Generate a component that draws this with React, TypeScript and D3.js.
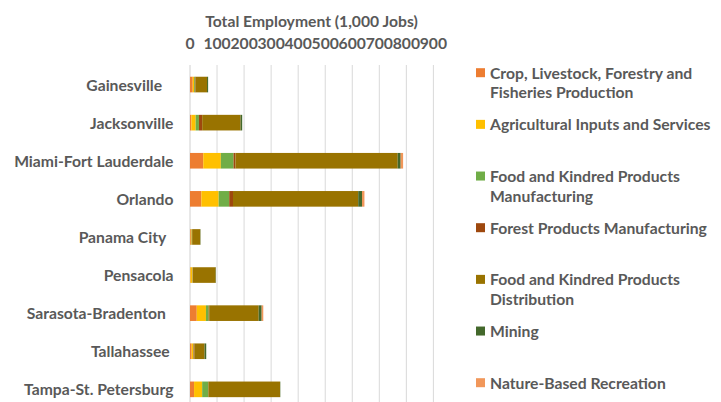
import React from "react";
import * as d3 from "d3";

const cities = [
  "Gainesville   ",
  "Jacksonville",
  "Miami-Fort Lauderdale",
  "Orlando",
  "Panama City  ",
  "Pensacola",
  "Sarasota-Bradenton  ",
  "Tallahassee ",
  "Tampa-St. Petersburg",
];

const seriesNames = [
  "Crop, Livestock, Forestry and Fisheries Production",
  "Agricultural Inputs and Services",
  "Food and Kindred Products Manufacturing",
  "Forest Products Manufacturing",
  "Food and Kindred Products Distribution",
  "Mining",
  "Nature-Based Recreation",
];

const legendLines = [
  ["Crop, Livestock, Forestry and", "Fisheries Production"],
  ["Agricultural Inputs and Services"],
  ["Food and Kindred Products", "Manufacturing"],
  ["Forest Products Manufacturing"],
  ["Food and Kindred Products", "Distribution"],
  ["Mining"],
  ["Nature-Based Recreation"],
];

const colors = ["#ED7D31", "#FFC000", "#70AD47", "#9E480E", "#997300", "#43682B", "#F1975A"];

// values per series, in city order
const cropProduction = [10, 5, 49, 42, 3, 2, 25, 6, 15];
const agInputs = [5, 16, 65, 64, 3, 7, 34, 6, 30];
const foodManufacturing = [3, 12, 47, 39, 1, 1, 10, 1, 22];
const forestProducts = [2, 12, 7, 14, 1, 1, 2, 3, 1];
const foodDistribution = [43, 142, 600, 463, 30, 84, 183, 38, 265];
const mining = [4, 6, 11, 14, 1, 1, 11, 6, 1];
const natureRecreation = [0, 0, 9, 9, 0, 0, 6, 0, 0];

const seriesValues = [
  cropProduction,
  agInputs,
  foodManufacturing,
  forestProducts,
  foodDistribution,
  mining,
  natureRecreation,
];

const xTicks = [0, 100, 200, 300, 400, 500, 600, 700, 800, 900];

const FONT = "Lato, 'Open Sans', sans-serif";
const TEXT = "#595959";
const FS = 15.7;

export default function App() {
  const W = 721;
  const H = 402;
  const x = d3.scaleLinear().domain([0, 900]).range([190, 433.4]);
  const y = d3
    .scaleBand<number>()
    .domain(d3.range(cities.length))
    .range([65.5, 408.4])
    .paddingInner(0.59)
    .paddingOuter(0.295);

  const rows = cities.map((_, i) => seriesValues.map((s) => s[i]));
  const stack = d3
    .stack<number[], number>()
    .keys(d3.range(seriesNames.length))
    .value((d, k) => d[k]);
  const stacked = stack(rows);

  const legendY = d3.scaleLinear().domain([0, 6]).range([72.7, 382.7]);

  return (
    <svg
      width={W}
      height={H}
      style={{ position: "absolute", left: 0, top: 0, background: "#fff" }}
      fontFamily={FONT}
      fontWeight="bold"
    >
      <rect width={W} height={H} fill="#fff" />
      <text x={311.5} y={21} textAnchor="middle" dominantBaseline="central" fontSize={FS} fill={TEXT}>
        Total Employment (1,000 Jobs)
      </text>
      {xTicks.map((t) => (
        <g key={t}>
          <line x1={x(t)} x2={x(t)} y1={65} y2={H} stroke={t === 0 ? "#d0d0d0" : "#d9d9d9"} strokeWidth={1} />
          <text x={x(t)} y={43} textAnchor="middle" dominantBaseline="central" fontSize={FS} fill={TEXT}>
            {t}
          </text>
        </g>
      ))}
      {stacked.map((layer, k) => (
        <g key={k} fill={colors[k]}>
          {layer.map((d, i) =>
            d[1] - d[0] > 0 ? (
              <rect
                key={i}
                x={x(d[0])}
                y={y(i)}
                width={x(d[1]) - x(d[0])}
                height={y.bandwidth()}
              />
            ) : null
          )}
        </g>
      ))}
      {cities.map((c, i) => (
        <text
          key={c}
          x={173.5}
          y={(y(i) as number) + y.bandwidth() / 2}
          textAnchor="end"
          dominantBaseline="central"
          fontSize={FS}
          fill={TEXT}
          style={{ whiteSpace: "pre" }}
        >
          {c}
        </text>
      ))}
      {legendLines.map((lines, k) => (
        <g key={k}>
          <rect x={476} y={legendY(k) - 4.5} width={9} height={9} fill={colors[k]} />
          {lines.map((ln, j) => (
            <text
              key={j}
              x={490}
              y={legendY(k) + j * 19.7}
              dominantBaseline="central"
              fontSize={FS}
              fill={TEXT}
            >
              {ln}
            </text>
          ))}
        </g>
      ))}
    </svg>
  );
}
